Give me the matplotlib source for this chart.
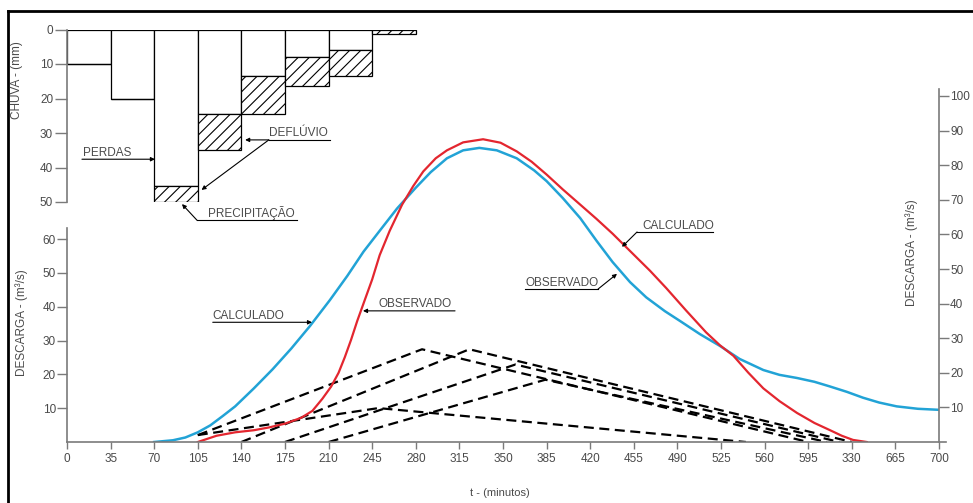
import matplotlib
matplotlib.use("Agg")
import matplotlib.pyplot as plt
from matplotlib.lines import Line2D

plt.rcParams["font.family"] = ["Liberation Sans", "DejaVu Sans"]
plt.rcParams["hatch.linewidth"] = 0.8

W, H = 973, 503
TEXT = "#4a4a4a"
AXIS = "#7a7a7a"
FS = 8.5

# --- hietograma (mm por bloco de 35 min) ---
bloco_t = [0, 35, 70, 105, 140, 175, 210, 245]
chuva_total = [10, 20, 50, 35, 24.5, 16.5, 13.5, 1.2]
perdas = [10, 20, 45.5, 24.5, 13.5, 8, 6, 0]

# --- hidrogramas (t em minutos, descarga em m3/s) ---
calc_t = [70, 85, 95, 105, 115, 125, 135, 150, 165, 180, 195, 211, 225, 238,
          252, 265, 280, 292, 305, 318, 331, 345, 361, 375, 385, 398, 412,
          425, 438, 452, 465, 480, 492, 508, 524, 540, 559, 572, 586, 600,
          612, 626, 639, 652, 666, 683, 700]
calc_q = [0, 0.5, 1.3, 2.8, 4.8, 7.5, 10.3, 15.5, 21, 27, 33.5, 41, 48, 55,
          61.5, 67.5, 73.5, 78, 82, 84.3, 85, 84.3, 82, 78.5, 75.4, 70.5, 64.7,
          58.2, 52, 46.2, 41.8, 37.8, 35, 31.2, 27.8, 24, 20.8, 19.4, 18.5,
          17.4, 16.1, 14.5, 12.8, 11.4, 10.3, 9.6, 9.3]

obs_t = [105, 120, 135, 150, 162, 175, 188, 197, 205, 212, 218, 223, 228,
         233, 238, 245, 251, 259, 269, 278, 286, 296, 305, 318, 334, 348, 361,
         373, 385, 398, 412, 425, 438, 452, 468, 481, 497, 513, 524, 535, 547,
         559, 572, 586, 600, 612, 622, 631, 642]
obs_q = [0, 1.8, 2.8, 3.4, 4.2, 5.3, 7, 9, 12.5, 16, 20, 24.5, 29.5, 35, 40,
         47, 54, 61, 68.6, 74, 78.2, 82, 84.3, 86.6, 87.5, 86.5, 84, 81, 77.3,
         73, 68.6, 64.5, 60.2, 55.2, 49.5, 44.5, 38, 31.7, 28, 24.9, 20, 15.5,
         11.8, 8.4, 5.5, 3.5, 1.8, 0.6, 0]

# hidrogramas triangulares (inicio, pico, fim)
tri_t = [[105, 250, 545], [105, 285, 595], [140, 323, 630],
         [175, 360, 620], [210, 384, 610]]
tri_q = [[2, 9.8, 0], [2, 26.8, 0], [0, 26.8, 0], [0, 22.4, 0], [0, 18, 0]]

x_ticks = list(range(0, 701, 35))
x_labels = ["0", "35", "70", "105", "140", "175", "210", "245", "280", "315",
            "350", "385", "420", "455", "490", "525", "560", "595", "330",
            "665", "700"]


def rect(x0, y_top, x1, y_bot):
    return [x0 / W, 1 - y_bot / H, (x1 - x0) / W, (y_bot - y_top) / H]


def arrow(ax, xy, xytext):
    ax.annotate("", xy=xy, xytext=xytext, annotation_clip=False,
                arrowprops=dict(arrowstyle="-|>", color="k", lw=0.8,
                                mutation_scale=6, shrinkA=0, shrinkB=0))


def underline(ax, x0, x1, y):
    ax.plot([x0, x1], [y, y], color="k", lw=0.8, clip_on=False)


def label(ax, x, y, s):
    ax.text(x, y, s, fontsize=FS, color=TEXT, ha="left", va="center",
            clip_on=False)


def main():
    fig = plt.figure(figsize=(W / 100, H / 100), dpi=100)

    # ---------- descarga ----------
    ax = fig.add_axes(rect(67, 96, 939, 442))
    ax.set_xlim(0, 700)
    ax.set_ylim(0, 100)
    ax.patch.set_alpha(0)
    for s in ["top", "left"]:
        ax.spines[s].set_visible(False)
    for s in ["bottom", "right"]:
        ax.spines[s].set_color(AXIS)
        ax.spines[s].set_linewidth(1.2)
    ax.spines["bottom"].set_bounds(0, 706)
    ax.spines["right"].set_bounds(0, 102)
    ax.yaxis.tick_right()
    ax.set_yticks(range(10, 101, 10))
    ax.set_xticks(x_ticks)
    ax.set_xticklabels(x_labels)
    ax.tick_params(axis="x", length=5, width=1, color=AXIS, pad=3,
                   labelsize=FS, labelcolor=TEXT)
    ax.tick_params(axis="y", length=7, width=1, color=AXIS, pad=1,
                   labelsize=FS, labelcolor=TEXT)

    for tt, qq in zip(tri_t, tri_q):
        ax.plot(tt, qq, color="k", lw=1.6, ls=(0, (4.5, 2.5)))
    ax.plot(calc_t, calc_q, color="#22a3d6", lw=1.8)
    ax.plot(obs_t, obs_q, color="#e3262f", lw=1.6)

    axl = fig.add_axes(rect(67, 96, 939, 442))
    axl.set_xlim(0, 700)
    axl.set_ylim(0, 346 / 3.383)
    axl.patch.set_alpha(0)
    for s in ["top", "right", "bottom"]:
        axl.spines[s].set_visible(False)
    axl.spines["left"].set_color(AXIS)
    axl.spines["left"].set_linewidth(1.2)
    axl.spines["left"].set_bounds(0, 63.3)
    axl.set_xticks([])
    axl.set_yticks(range(10, 61, 10))
    axl.tick_params(axis="y", length=7, width=1, color=AXIS, pad=1,
                    labelsize=FS, labelcolor=TEXT)

    # legendas das curvas
    label(ax, 117, 36.3, "CALCULADO")
    arrow(ax, (196.7, 34.6), (117, 34.6))
    label(ax, 250, 39.8, "OBSERVADO")
    arrow(ax, (237.6, 37.9), (311.5, 37.9))
    label(ax, 461.6, 62.4, "CALCULADO")
    underline(ax, 457.6, 518.6, 60.7)
    arrow(ax, (445.5, 56.4), (457.6, 60.7))
    label(ax, 367.7, 46.0, "OBSERVADO")
    underline(ax, 367.7, 426.3, 44.2)
    arrow(ax, (441.5, 48.6), (426.3, 44.2))

    # ---------- chuva ----------
    axh = fig.add_axes(rect(67, 29.5, 939, 202))
    axh.set_xlim(0, 700)
    axh.set_ylim(50, 0)
    axh.patch.set_alpha(0)
    for s in ["top", "right", "bottom"]:
        axh.spines[s].set_visible(False)
    axh.spines["left"].set_color(AXIS)
    axh.spines["left"].set_linewidth(1.2)
    axh.spines["left"].set_bounds(0, 50)
    axh.set_xticks([])
    axh.set_yticks(range(0, 51, 10))
    axh.tick_params(axis="y", length=9, width=1, color=AXIS, pad=1,
                    labelsize=FS, labelcolor=TEXT)

    excesso = [c - p for c, p in zip(chuva_total, perdas)]
    axh.bar(bloco_t, perdas, width=35, align="edge", color="white",
            edgecolor="k", lw=0.9)
    axh.bar(bloco_t, excesso, bottom=perdas, width=35, align="edge",
            color="white", edgecolor="k", lw=0.9, hatch="///")

    label(axh, 13, 35.8, "PERDAS")
    arrow(axh, (70.6, 37.6), (12, 37.6))
    label(axh, 162, 30.0, "DEFLÚVIO")
    underline(axh, 162, 211, 32)
    arrow(axh, (143, 32), (162, 32))
    arrow(axh, (108, 46.5), (162, 32))
    label(axh, 113, 53.3, "PRECIPITAÇÃO")
    underline(axh, 104.4, 185, 55.3)
    arrow(axh, (92.3, 50.6), (104.4, 55.3))

    # ---------- rotulos ----------
    fig.text(17 / W, 1 - 80 / H, "CHUVA - (mm)", rotation=90, ha="center",
             va="center", fontsize=FS, color=TEXT)
    fig.text(22 / W, 1 - 323 / H, "DESCARGA - (m³/s)", rotation=90,
             ha="center", va="center", fontsize=FS, color=TEXT)
    fig.text(912 / W, 1 - 253 / H, "DESCARGA - (m³/s)", rotation=90,
             ha="center", va="center", fontsize=FS, color=TEXT)
    fig.text(500 / W, 1 - 493 / H, "t - (minutos)", ha="center",
             va="center", fontsize=FS - 0.5, color=TEXT)

    # moldura
    fig.add_artist(Line2D([8 / W, 1], [1 - 11 / H, 1 - 11 / H], color="k",
                          lw=2, transform=fig.transFigure))
    fig.add_artist(Line2D([8 / W, 8 / W], [0, 1 - 11 / H], color="k",
                          lw=2, transform=fig.transFigure))

    fig.savefig("out.png", dpi=100)
    plt.close(fig)


if __name__ == "__main__":
    main()
